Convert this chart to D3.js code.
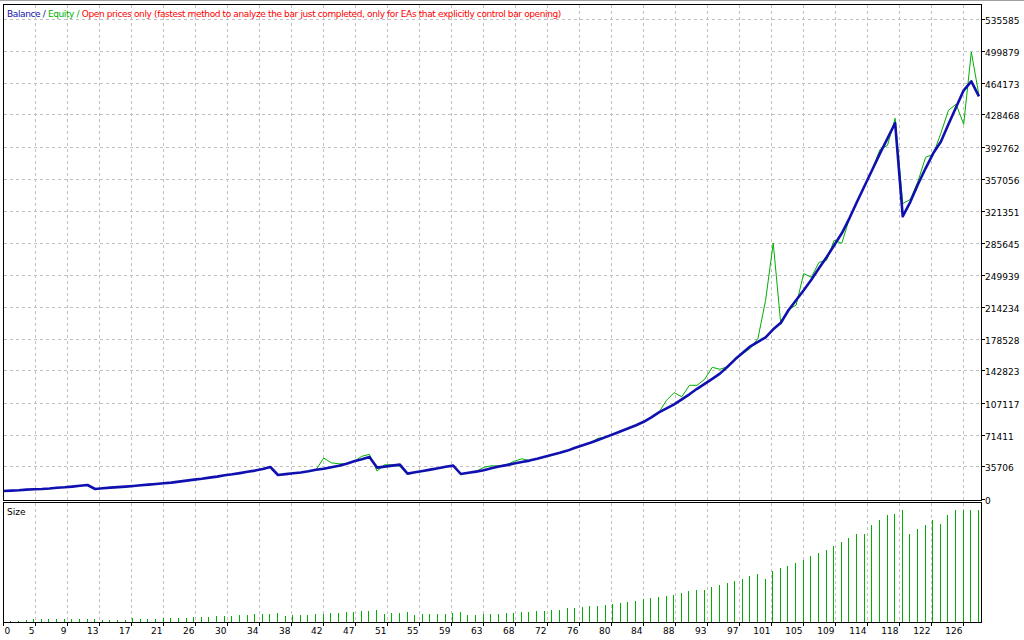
<!DOCTYPE html>
<html><head><meta charset="utf-8">
<script src="https://cdn.jsdelivr.net/npm/d3@7"></script>
<style>html,body{margin:0;padding:0;background:#fff;overflow:hidden}</style>
</head><body>
<svg id="c" width="1024" height="640"></svg>
<script>
const balance=[10000,10490,10820,11600,11940,12270,12830,13610,14170,14950,
15840,16740,12270,13060,13840,14390,14950,15620,16400,17180,
17850,18630,19420,20530,21650,22760,23660,24990,26110,27560,
28680,30020,31470,32810,34590,36820,27900,28900,29790,30690,
32020,33700,34810,36490,38160,40390,43180,45410,47980,36150,
37270,38380,39500,29460,30910,32360,33920,35370,37050,38380,
29010,30350,31690,33140,35370,37270,38940,40620,42290,43960,
45970,48200,50430,52670,55120,58250,61030,63820,66950,70180,
73310,76660,80000,83350,87260,92280,97860,102320,106780,112360,
117940,124080,129660,135240,141040,148630,156990,164250,171500,176520,
181540,190470,197720,211670,222830,233980,245700,258530,270810,284190,
297580,314320,332730,350580,368440,386510,403590,420660,316550,332730,
352260,370110,386850,399680,419210,438180,457140,467190,450450];
const equity=[10000,10490,10820,11600,11940,12270,12830,13610,14170,14950,
15840,16740,11900,13060,13840,14390,14950,15620,16400,17180,
17850,18630,19420,20530,21650,22760,23660,24990,26110,27560,
28680,30020,31470,32810,34590,36820,27900,28900,29790,30690,
32020,33700,46860,41510,40390,40390,43180,48760,50990,32360,
39280,39280,37600,28680,30910,32360,33920,35370,37050,38380,
29010,30350,31690,36490,38160,38160,39280,43180,45970,43960,
45970,48200,50430,52670,55120,58250,61030,63820,68850,70180,
73310,76660,80000,83350,87260,92280,97860,111250,119840,115150,
127980,127980,134680,148070,145840,148630,156990,163130,169270,180430,
222830,286760,196050,212780,217250,252620,248490,265230,267460,289770,
286430,314320,332730,350580,368440,390980,395770,425900,330720,335520,
355610,382390,385730,409160,434830,441520,419210,499880,451570];
// lot size of trades 1..128
const size=[0.05,0.05,0.09,0.10,0.10,0.10,0.10,0.11,0.13,0.13,
0.10,0.13,0.09,0.09,0.09,0.09,0.14,0.13,0.13,0.13,
0.14,0.16,0.16,0.16,0.19,0.19,0.19,0.23,0.23,0.23,
0.25,0.25,0.30,0.29,0.30,0.33,0.23,0.25,0.25,0.26,
0.30,0.30,0.34,0.34,0.38,0.38,0.41,0.41,0.45,0.30,
0.34,0.34,0.36,0.26,0.30,0.30,0.30,0.30,0.34,0.38,
0.26,0.26,0.30,0.30,0.30,0.33,0.33,0.38,0.38,0.41,
0.41,0.45,0.45,0.53,0.53,0.56,0.60,0.60,0.64,0.68,
0.71,0.75,0.79,0.86,0.90,0.94,0.98,1.01,1.09,1.17,
1.20,1.20,1.32,1.39,1.47,1.54,1.62,1.73,1.80,1.62,
1.92,2.03,2.11,2.22,2.33,2.48,2.59,2.71,2.86,3.01,
3.16,3.31,3.31,3.65,3.84,4.02,4.06,4.21,3.31,3.50,
3.65,3.84,3.68,4.02,4.21,4.21,4.21,4.21];
const xTickLabels=["0","5","9","13","17","21","26","30","34","38","42","47","51","55","59","63","68","72","76","80","84","88","93","97","101","105","109","114","118","122","126"];
const yTickLabels=["0","35706","71411","107117","142823","178528","214234","249939","285645","321351","357056","392762","428468","464173","499879","535585"];
const legendParts=["Balance / ","Equity / ","Open prices only (fastest method to analyze the bar just completed, only for EAs that explicitly control bar opening)"];

const svg=d3.select("#c");
const L=3.5,R=981.5,T=4.5,B=500.5,ST=502.5,SB=622.5;
const FONT="'DejaVu Sans', Verdana, sans-serif";
const BLUE="#1010b0", GREEN="#00b000", GRID="#c0c0c0";
const legendColors=[BLUE,GREEN,"#ff0000"];

const x=d3.scaleLinear().domain([0,126]).range([3.7,963.7]);
const y=d3.scaleLinear().domain([0,+yTickLabels[yTickLabels.length-1]]).range([500,20]);
const ys=d3.scaleLinear().domain([0,d3.max(size)]).range([622,510]);
const gridStep=126/(xTickLabels.length-1);

svg.append("rect").attr("width",1024).attr("height",640).attr("fill","#fff");
svg.append("line").attr("x1",0).attr("x2",1024).attr("y1",0.5).attr("y2",0.5).attr("stroke","#a0a0a0");

const grid=svg.append("g").attr("shape-rendering","crispEdges").attr("stroke",GRID).attr("stroke-dasharray","3,3");
xTickLabels.forEach((lab,k)=>{
  if(k===0) return;
  const xp=Math.round(x(k*gridStep))-0.5;
  grid.append("line").attr("x1",xp).attr("x2",xp).attr("y1",T).attr("y2",B);
  grid.append("line").attr("x1",xp).attr("x2",xp).attr("y1",ST).attr("y2",SB);
});
yTickLabels.forEach(lab=>{
  const v=+lab; if(v===0) return;
  const yp=Math.floor(y(v))-0.5;
  grid.append("line").attr("x1",L).attr("x2",R).attr("y1",yp).attr("y2",yp);
});

// equity then balance
const line=d3.line().x((d,i)=>x(i)).y(d=>y(d));
svg.append("path").datum(equity).attr("d",line).attr("fill","none").attr("stroke",GREEN).attr("stroke-width",1);
svg.append("path").datum(balance).attr("d",line).attr("fill","none").attr("stroke",BLUE).attr("stroke-width",2.6).attr("stroke-linejoin","round");

// size bars
svg.append("g").attr("shape-rendering","crispEdges").selectAll("rect").data(size).join("rect")
  .attr("x",(d,i)=>Math.round(x(i+1))-1).attr("width",1)
  .attr("y",d=>ys(d)).attr("height",d=>ys(0)-ys(d)).attr("fill",GREEN);

// frames
const fr=svg.append("g").attr("shape-rendering","crispEdges").attr("fill","none").attr("stroke","#000");
fr.append("rect").attr("x",L).attr("y",T).attr("width",R-L).attr("height",B-T);
fr.append("rect").attr("x",L).attr("y",ST).attr("width",R-L).attr("height",SB-ST);

// y axis labels + ticks
const ya=svg.append("g").attr("font-family",FONT).attr("font-size","9px").attr("fill","#000");
yTickLabels.forEach(lab=>{
  const yp=Math.floor(y(+lab))-0.5;
  ya.append("line").attr("x1",R).attr("x2",R+3).attr("y1",yp).attr("y2",yp).attr("stroke","#000").attr("shape-rendering","crispEdges");
  ya.append("text").attr("x",985).attr("y",yp+4).text(lab);
});

// x axis labels + ticks
const xa=svg.append("g").attr("font-family",FONT).attr("font-size","9px").attr("fill","#000");
xTickLabels.forEach((lab,k)=>{
  const xp=Math.round(x(k*gridStep))-0.5;
  xa.append("line").attr("x1",xp).attr("x2",xp).attr("y1",SB).attr("y2",SB+3).attr("stroke","#000").attr("shape-rendering","crispEdges");
  const t=xa.append("text").attr("y",634).text(lab);
  if(k===0) t.attr("x",xp+1).attr("text-anchor","start");
  else t.attr("x",xp-1).attr("text-anchor","end");
});

// legend: separate texts placed one after another, spaced to span the reference width
const lg=svg.append("g").attr("font-family",FONT).attr("font-size","9px");
const parts=legendParts.map((s,i)=>lg.append("text").attr("y",17).attr("fill",legendColors[i]).attr("xml:space","preserve").style("white-space","pre").text(s));
const natural=parts.reduce((a,t)=>a+t.node().getComputedTextLength(),0);
const nChars=legendParts.join("").length;
const ls=(554-natural)/nChars;
let cx=7;
parts.forEach(t=>{
  t.attr("letter-spacing",ls).attr("x",cx);
  cx+=t.node().getComputedTextLength();
});

svg.append("text").attr("x",7).attr("y",515).attr("font-family",FONT).attr("font-size","9px").attr("fill","#000").text("Size");
</script>
</body></html>
